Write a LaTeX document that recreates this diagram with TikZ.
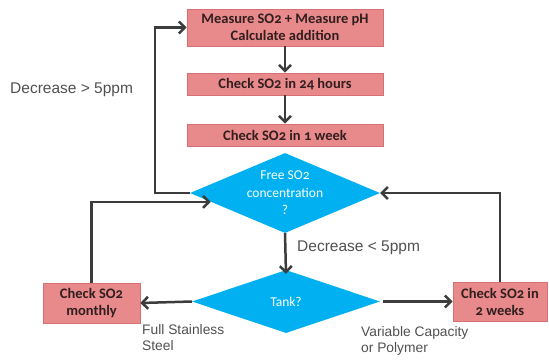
\documentclass[tikz,border=0pt]{standalone}
\usepackage{fontspec}
\setmainfont{Carlito}[Numbers=OldStyle]
\newfontfamily\labelfont{Liberation Sans}
\usetikzlibrary{shapes.geometric,arrows.meta,calc}
\definecolor{boxfill}{RGB}{232,138,140}
\definecolor{boxline}{RGB}{214,112,116}
\definecolor{dia}{RGB}{0,176,240}
\definecolor{arrowc}{RGB}{60,60,60}
\definecolor{labc}{RGB}{80,80,80}
\definecolor{boxtext}{RGB}{50,30,30}
\begin{document}
\begin{tikzpicture}[x=1pt,y=-1pt,
 stepbox/.style={draw=boxline, fill=boxfill, line width=0.6pt, font=\bfseries\fontsize{14.5}{17}\selectfont, text=boxtext, align=center, inner sep=0pt},
 decision/.style={diamond, fill=dia, inner sep=0pt},
 dtext/.style={text=white, font=\fontsize{13.5}{17.5}\selectfont, align=center, inner sep=0pt},
 arr/.style={draw=arrowc, line width=2.5pt, -{Straight Barb[length=6pt,width=12pt,line width=2.5pt]}},
 lab/.style={text=labc, font=\labelfont\fontsize{13.8}{16.5}\selectfont, align=left, inner sep=0pt, anchor=west},
 biglab/.style={text=labc, font=\labelfont\fontsize{15.5}{16}\selectfont, inner sep=0pt, anchor=west}]
\useasboundingbox (0,0) rectangle (549,360);
% boxes
\node[stepbox, minimum width=196pt, minimum height=37pt] (m1) at (285,27.5) {Measure SO2 + Measure pH\\Calculate addition};
\node[stepbox, minimum width=196pt, minimum height=22pt] (m2) at (285,84) {Check SO2 in 24 hours};
\node[stepbox, minimum width=196pt, minimum height=22pt] (m3) at (285,135) {Check SO2 in 1 week};
\node[stepbox, minimum width=97pt, minimum height=40pt] (mon) at (91.5,303) {Check SO2\\monthly};
\node[stepbox, minimum width=94pt, minimum height=39pt] (two) at (500,301.5) {Check SO2 in\\2 weeks};
% decisions
\node[decision, minimum width=190pt, minimum height=80pt] (d1) at (285,193) {};
\node[dtext] (d1t) at (d1.center) {Free SO2\\concentration\\?};
\node[decision, minimum width=188pt, minimum height=63pt] (d2) at (286,301.5) {};
\node[dtext] (d2t) at (d2.center) {Tank?};
% connectors
\draw[arr] (m1) -- (m2);
\draw[arr] (m2) -- (m3);
\draw[arr] (d1.south) -- ([yshift=-4pt]d2.north);
\draw[arr] (d1.west) -- ++(-35pt,0) |- (m1.west);
\coordinate (d1in) at ($(d1.west)!0.22!(d1.south)$);
\draw[arr] (mon.north) |- (d1in);
\draw[arr] (two.north) |- (d1.east);
\draw[arr] (d2.west) -- (mon.east);
\draw[arr] ([xshift=3pt]d2.east) -- (two.west);
% labels
\node[biglab] (l1) at (10,90) {Decrease > 5ppm};
\node[biglab] (l2) at (297,248) {Decrease < 5ppm};
\node[lab] (l3) at (142,337.5) {Full Stainless\\Steel};
\node[lab] (l4) at (361,341) {Variable Capacity\\or Polymer};
\end{tikzpicture}
\end{document}
